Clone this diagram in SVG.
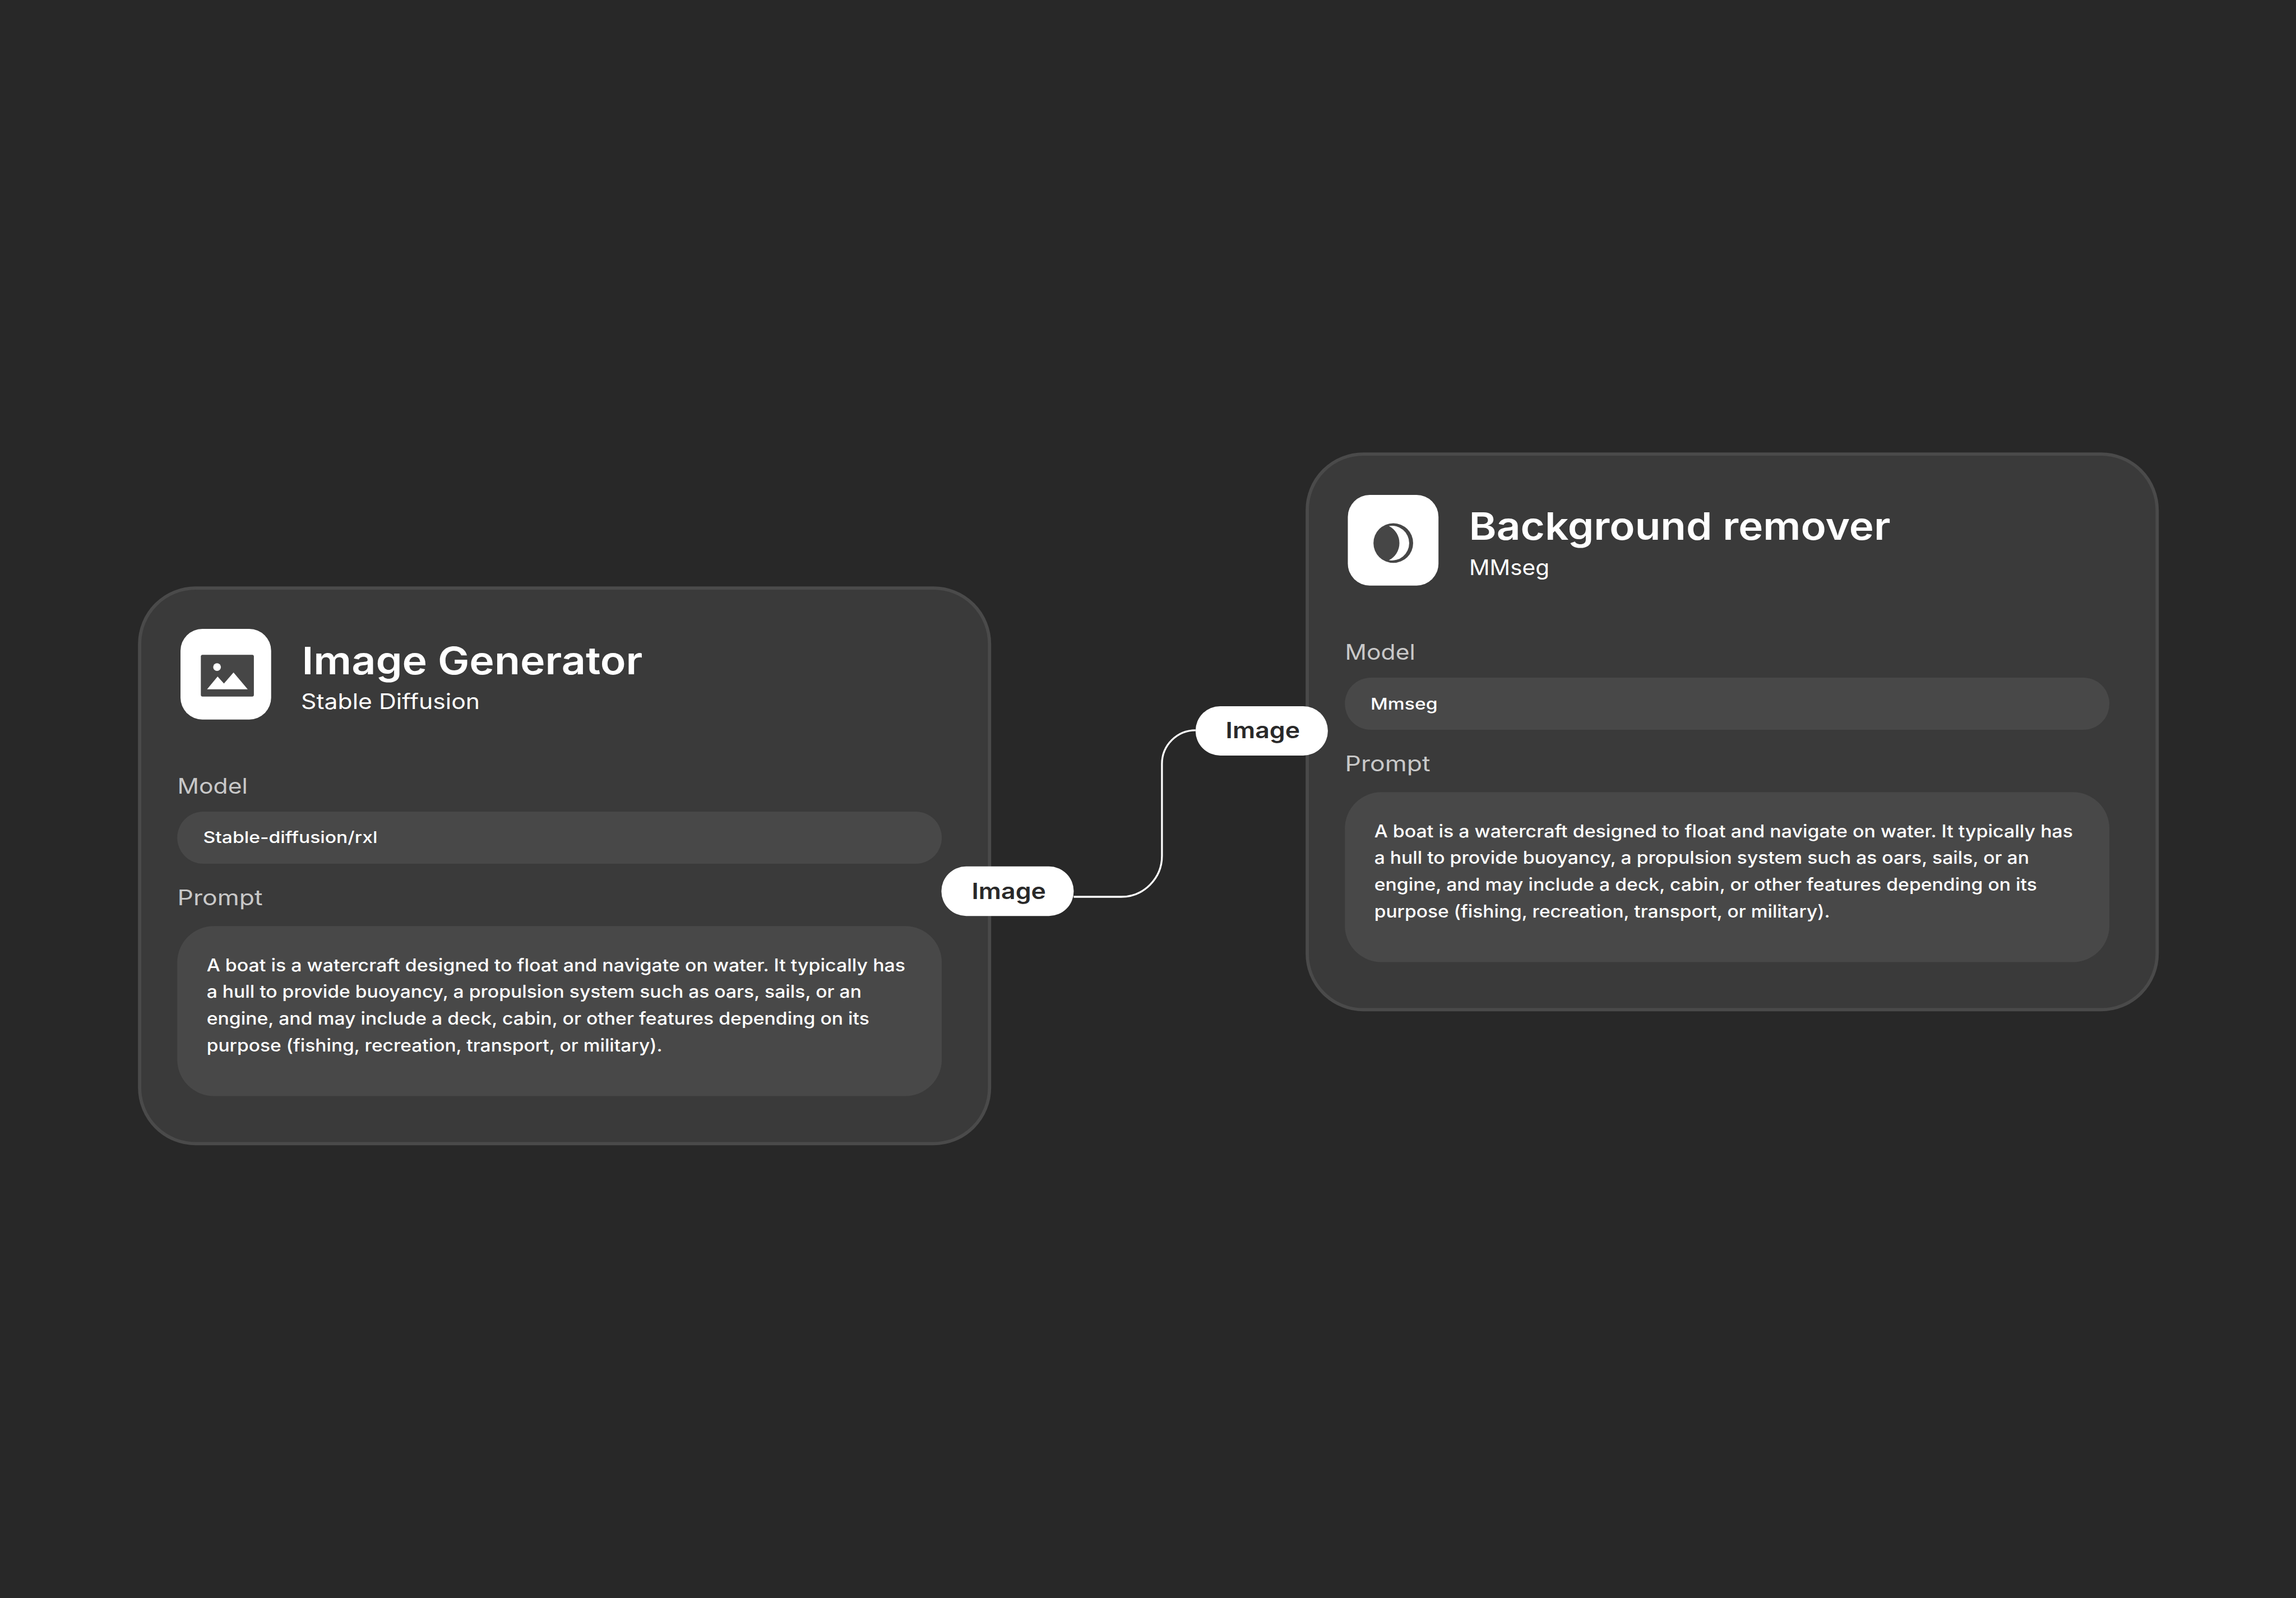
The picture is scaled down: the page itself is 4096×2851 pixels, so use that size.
<svg xmlns="http://www.w3.org/2000/svg" width="4096" height="2851" viewBox="0 0 4096 2851">
<style>
text{font-family:"Inter","Noto Sans","Liberation Sans",sans-serif;fill:#fff}
.card{fill:#3a3a3a;stroke:#4a4a4a;stroke-width:5.8}
.field{fill:#484848}
.tile{fill:#fff}
.glyph{fill:#464646}
.title{font-size:68px;font-weight:600}
.sub{font-size:38px;font-weight:400}
.cap{font-size:38px;font-weight:400;fill:#c8c8c8}
.val{font-size:29px;font-weight:500}
.body{font-size:31px;font-weight:500}
.port{fill:#fff}
.portt{font-size:39.5px;font-weight:600;fill:#292929}
.link{fill:none;stroke:#fff;stroke-width:3.3}
</style>
<rect width="4096" height="2851" fill="#282828"/>
<g id="connectors">
<path class="link" d="M1915.5 1600H2000A72.9 72.9 0 0 0 2072.9 1527V1362.8A59.9 59.9 0 0 1 2132.8 1302.9"/>
</g>
<g id="node-image-generator">
<rect class="card" x="249.1" y="1049.1" width="1516.2" height="991.3" rx="100"/>
<rect class="tile" x="322" y="1122" width="161.7" height="161.7" rx="39"/>
<rect class="glyph" x="358.3" y="1168.2" width="94.6" height="74.6" rx="3"/>
<circle class="tile" cx="387.2" cy="1190.1" r="6.9"/>
<polygon class="tile" points="369.4,1229.8 388.2,1207 399.5,1219.5 416.6,1199.8 441.9,1229.8"/>
<text class="title" x="538.5" y="1203" textLength="608" lengthAdjust="spacingAndGlyphs">Image Generator</text>
<text class="sub" x="537" y="1265" textLength="319" lengthAdjust="spacingAndGlyphs">Stable Diffusion</text>
<text class="cap" x="316.5" y="1416" textLength="125.3" lengthAdjust="spacingAndGlyphs">Model</text>
<rect class="field" x="316.2" y="1448" width="1363.9" height="93.1" rx="46.5"/>
<text class="val" x="362.5" y="1504.4" textLength="311" lengthAdjust="spacingAndGlyphs">Stable-diffusion/rxl</text>
<text class="cap" x="316.5" y="1615" textLength="152" lengthAdjust="spacingAndGlyphs">Prompt</text>
<rect class="field" x="316.2" y="1652.2" width="1363.9" height="303.2" rx="65"/>
<text class="body" x="368.7" y="1732.7" textLength="1246.4" lengthAdjust="spacingAndGlyphs">A boat is a watercraft designed to float and navigate on water. It typically has</text>
<text class="body" x="368.7" y="1780.4" textLength="1168.2" lengthAdjust="spacingAndGlyphs">a hull to provide buoyancy, a propulsion system such as oars, sails, or an</text>
<text class="body" x="368.7" y="1827.7" textLength="1182.2" lengthAdjust="spacingAndGlyphs">engine, and may include a deck, cabin, or other features depending on its</text>
<text class="body" x="368.7" y="1875.5" textLength="813" lengthAdjust="spacingAndGlyphs">purpose (fishing, recreation, transport, or military).</text>
<rect class="port" x="1679.4" y="1545.8" width="236.1" height="88.4" rx="44.2"/>
<text class="portt" x="1733.5" y="1603.5" textLength="132.5" lengthAdjust="spacingAndGlyphs">Image</text>
</g>
<g id="node-background-remover">
<rect class="card" x="2332.1" y="810.1" width="1516.2" height="991.3" rx="100"/>
<rect class="tile" x="2404.5" y="883" width="161.7" height="161.7" rx="39"/>
<circle class="glyph" cx="2485.6" cy="968.9" r="35.4"/>
<path class="tile" d="M2477.7 938.4A31 31 0 1 1 2477.7 999.5A34.2 34.2 0 0 0 2477.7 938.4Z"/>
<text class="title" x="2620.5" y="963" textLength="752" lengthAdjust="spacingAndGlyphs">Background remover</text>
<text class="sub" x="2621" y="1025.5" textLength="143" lengthAdjust="spacingAndGlyphs">MMseg</text>
<text class="cap" x="2399.5" y="1177" textLength="125.3" lengthAdjust="spacingAndGlyphs">Model</text>
<rect class="field" x="2399.2" y="1209" width="1363.9" height="93.1" rx="46.5"/>
<text class="val" x="2445" y="1265.6" textLength="119.6" lengthAdjust="spacingAndGlyphs">Mmseg</text>
<text class="cap" x="2399.5" y="1376" textLength="152" lengthAdjust="spacingAndGlyphs">Prompt</text>
<rect class="field" x="2399.2" y="1413.2" width="1363.9" height="303.2" rx="65"/>
<text class="body" x="2451.7" y="1493.7" textLength="1246.4" lengthAdjust="spacingAndGlyphs">A boat is a watercraft designed to float and navigate on water. It typically has</text>
<text class="body" x="2451.7" y="1541.4" textLength="1168.2" lengthAdjust="spacingAndGlyphs">a hull to provide buoyancy, a propulsion system such as oars, sails, or an</text>
<text class="body" x="2451.7" y="1588.7" textLength="1182.2" lengthAdjust="spacingAndGlyphs">engine, and may include a deck, cabin, or other features depending on its</text>
<text class="body" x="2451.7" y="1636.5" textLength="813" lengthAdjust="spacingAndGlyphs">purpose (fishing, recreation, transport, or military).</text>
<rect class="port" x="2132.8" y="1259.9" width="236.1" height="88" rx="44"/>
<text class="portt" x="2186.6" y="1317" textLength="132.5" lengthAdjust="spacingAndGlyphs">Image</text>
</g>
</svg>
